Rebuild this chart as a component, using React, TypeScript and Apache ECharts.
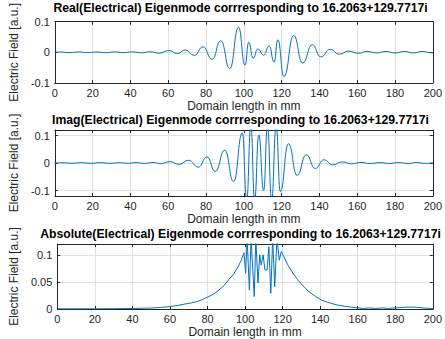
import React, { useEffect, useRef } from "react";
import * as echarts from "echarts";

const TITLES = [
  "Real(Electrical) Eigenmode corrresponding to 16.2063+129.7717i",
  "Imag(Electrical) Eigenmode corrresponding to 16.2063+129.7717i",
  "Absolute(Electrical) Eigenmode corrresponding to 16.2063+129.7717i",
];
const X_LABEL = "Domain length in mm";
const Y_LABEL = "Electric Field [a.u.]";
const Y_TICKS_REAL = [-0.1, 0, 0.1];
const Y_TICKS_IMAG = [-0.1, 0, 0.1];
const Y_TICKS_ABS = [0, 0.05, 0.1];

// [mm, value] (extrema of the waves)
const realData: number[][] = [
  [0, 0], [3, 0.001], [8, -0.001], [13, 0.0015], [17, -0.001], [22, 0.001],
  [27, -0.001], [32, 0.0015], [36, -0.001], [41, 0.0015], [46, -0.0015],
  [50.5, 0.002], [55, -0.003], [60.5, 0.006], [64.8, -0.004], [69, 0.008],
  [73.8, -0.01], [78.4, 0.018], [83.2, -0.023], [87.8, 0.038], [92.6, -0.053],
  [97.2, 0.082], [100.6, -0.042], [102.6, 0.033], [104.9, -0.019],
  [107.4, 0.011], [110.5, -0.009], [113.4, 0.021], [116, -0.032],
  [118, 0.041], [121.2, -0.079], [126.4, 0.055], [131.1, -0.035],
  [136.2, 0.025], [140.7, -0.015], [145.7, 0.01], [150.4, -0.006],
  [155.3, 0.004], [160.5, -0.003], [165.2, 0.003], [170.3, -0.002],
  [175.2, 0.003], [180, -0.002], [185, 0.003], [189.7, -0.002],
  [194.5, 0.003], [198.5, -0.001], [200, -0.002],
];

const imagData: number[][] = [
  [0, 0], [4, 0.001], [9, -0.001], [14, 0.001], [19, -0.001], [24, 0.0012],
  [29, -0.001], [34, 0.001], [39, -0.001], [43, 0.0015], [47.5, -0.0015],
  [52, 0.002], [56, -0.002], [61, 0.005], [65.8, -0.005], [70.8, 0.01],
  [75.9, -0.015], [80.5, 0.022], [84.9, -0.031], [89.9, 0.047],
  [94.6, -0.068], [99.2, 0.109], [101.5, -0.135], [103.7, 0.135],
  [105.7, -0.135], [107.9, 0.102], [110.5, -0.1], [112.5, 0.135],
  [114.7, -0.135], [117.1, 0.135], [119.3, -0.104], [123.6, 0.07],
  [128.2, -0.045], [133, 0.03], [137.8, -0.02], [142.4, 0.012],
  [147, -0.007], [152, 0.004], [157, -0.003], [162, 0.002], [167, -0.002],
  [172, 0.0015], [177, -0.0015], [182, 0.0015], [187, -0.002],
  [191.5, 0.002], [196, -0.0015], [200, 0.001],
];

const absData: number[][] = [
  [0, 0.0003], [10, 0.0003], [20, 0.0004], [30, 0.0006], [40, 0.001],
  [50, 0.0018], [55, 0.0028], [60, 0.0045], [64, 0.0065], [67.4, 0.0088],
  [71, 0.011], [74.2, 0.0136], [77, 0.017], [79.8, 0.0216], [83, 0.027],
  [86.1, 0.035], [89, 0.044], [91.2, 0.054], [94, 0.065], [96.3, 0.078],
  [98, 0.09], [99.4, 0.104], [100.3, 0.066], [101.1, 0.13], [102.3, 0.035],
  [103.2, 0.13], [104.9, 0.023], [105.7, 0.13], [106.9, 0.048],
  [107.8, 0.1], [108.6, 0.081], [109.6, 0.1], [110.6, 0.072],
  [111.7, 0.072], [112.7, 0.115], [113.7, 0.029], [114.7, 0.13],
  [115.8, 0.041], [117, 0.13], [118.2, 0.09], [119.3, 0.106],
  [121, 0.094], [123, 0.08], [125.5, 0.066], [128, 0.054], [130.8, 0.043],
  [134, 0.032], [137.6, 0.023], [141, 0.016], [145.3, 0.011], [149, 0.0075],
  [153, 0.005], [156.5, 0.0033], [160, 0.002], [163, 0.0009],
  [166, 0.002], [169.5, 0.001], [173, 0.002], [176.5, 0.001],
  [180, 0.002], [184, 0.003], [188, 0.0035], [192, 0.003], [196, 0.0015],
  [200, 0.001],
];

const GRIDS = [
  { top: 18, height: 65 },
  { top: 130, height: 66 },
  { top: 244, height: 65 },
];
const Y_RANGES = [
  [-0.1, 0.1],
  [-0.12, 0.12],
  [0, 0.12],
];

export default function App() {
  const ref = useRef<HTMLDivElement>(null);
  useEffect(() => {
    if (!ref.current) return;
    const chart = echarts.init(ref.current, undefined, { renderer: "svg" });
    const font = "'Liberation Sans', Arial, Helvetica, sans-serif";
    const axisColor = "#262626";
    const gridColor = "#dfdfdf";
    const yTicks = [Y_TICKS_REAL, Y_TICKS_IMAG, Y_TICKS_ABS];
    const datas = [realData, imagData, absData];
    const smooths: (number | boolean)[] = [0.5, 0.5, false];

    const grid: any[] = [];
    const xAxis: any[] = [];
    const yAxis: any[] = [];
    const series: any[] = [];
    const graphic: any[] = [];

    GRIDS.forEach((g, i) => {
      grid.push({ left: 45, right: 9, top: g.top, height: g.height, containLabel: false });
      xAxis.push({
        type: "value",
        gridIndex: i,
        min: 0,
        max: 200,
        interval: 20,
        position: "bottom",
        name: X_LABEL,
        nameLocation: "middle",
        nameGap: 17,
        nameTextStyle: { fontSize: 12, color: axisColor, fontFamily: font },
        axisLine: { show: true, onZero: false, lineStyle: { color: axisColor, width: 1 } },
        axisTick: { show: true, inside: true, length: 3, lineStyle: { color: axisColor } },
        axisLabel: { show: true, fontSize: 11, color: axisColor, fontFamily: font, margin: 4 },
        splitLine: { show: true, lineStyle: { color: gridColor, width: 1 } },
      });
      xAxis.push({
        type: "value",
        gridIndex: i,
        min: 0,
        max: 200,
        interval: 20,
        position: "top",
        axisLine: { show: true, onZero: false, lineStyle: { color: axisColor, width: 1 } },
        axisTick: { show: true, inside: true, length: 3, lineStyle: { color: axisColor } },
        axisLabel: { show: false },
        splitLine: { show: false },
      });
      const [ymin, ymax] = Y_RANGES[i];
      yAxis.push({
        type: "value",
        gridIndex: i,
        min: ymin,
        max: ymax,
        position: "left",
        name: Y_LABEL,
        nameLocation: "middle",
        nameGap: 25,
        nameTextStyle: { fontSize: 12, color: axisColor, fontFamily: font },
        axisLine: { show: true, onZero: false, lineStyle: { color: axisColor, width: 1 } },
        axisTick: { show: true, inside: true, length: 3, customValues: yTicks[i], lineStyle: { color: axisColor } },
        axisLabel: { show: true, fontSize: 11, color: axisColor, fontFamily: font, margin: 5, customValues: yTicks[i] },
        splitLine: { show: true, customValues: yTicks[i], lineStyle: { color: gridColor, width: 1 } },
      });
      yAxis.push({
        type: "value",
        gridIndex: i,
        min: ymin,
        max: ymax,
        position: "right",
        axisLine: { show: true, onZero: false, lineStyle: { color: axisColor, width: 1 } },
        axisTick: { show: true, inside: true, length: 3, customValues: yTicks[i], lineStyle: { color: axisColor } },
        axisLabel: { show: false },
        splitLine: { show: false },
      });
      series.push({
        type: "line",
        xAxisIndex: i * 2,
        yAxisIndex: i * 2,
        data: datas[i],
        showSymbol: false,
        smooth: smooths[i],
        smoothMonotone: "x",
        clip: true,
        lineStyle: { color: "#0072BD", width: 1 },
        itemStyle: { color: "#0072BD" },
      });
      graphic.push({
        type: "text",
        x: 240.5,
        y: g.top - 10,
        style: {
          text: TITLES[i],
          fill: "#000",
          font: `bold 12.2px ${font}`,
          textAlign: "center",
          textVerticalAlign: "middle",
        },
      });
    });

    chart.setOption({
      animation: false,
      backgroundColor: "#fff",
      grid,
      xAxis,
      yAxis,
      series,
      graphic,
    });
    return () => chart.dispose();
  }, []);
  return (
    <div
      ref={ref}
      style={{ position: "fixed", left: 0, top: 0, width: 445, height: 339 }}
    />
  );
}
